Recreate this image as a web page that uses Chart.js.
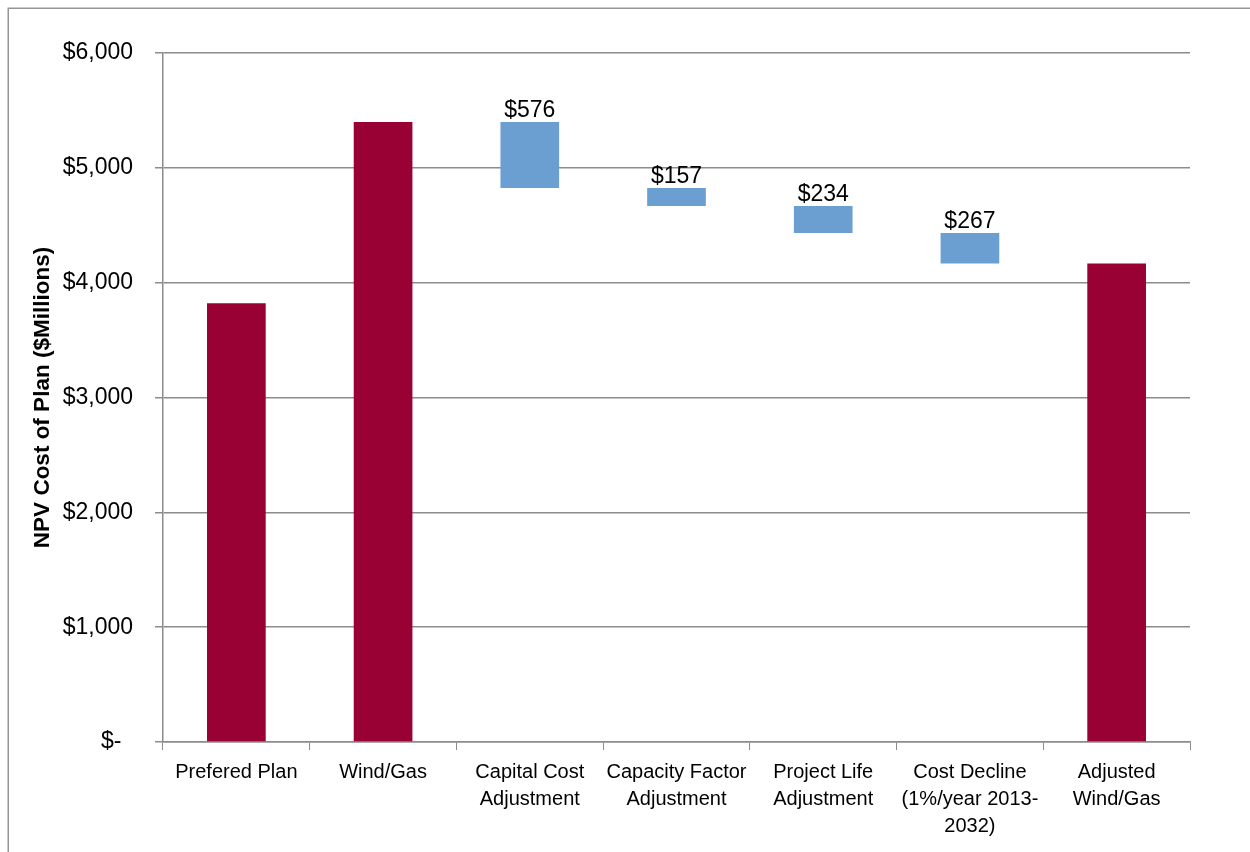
<!DOCTYPE html>
<html>
<head>
<meta charset="utf-8">
<script src="https://cdn.jsdelivr.net/npm/chart.js@4/dist/chart.umd.min.js"></script>
<style>
  html, body { margin: 0; padding: 0; background: #fff; }
  #wrap { width: 1250px; height: 852px; position: relative; }
</style>
</head>
<body>
<div id="wrap"><canvas id="c" width="1250" height="852"></canvas></div>
<script>
// ---- Data ----
const categories = [
  ['Prefered Plan'],
  ['Wind/Gas'],
  ['Capital Cost', 'Adjustment'],
  ['Capacity Factor', 'Adjustment'],
  ['Project Life', 'Adjustment'],
  ['Cost Decline', '(1%/year 2013-', '2032)'],
  ['Adjusted', 'Wind/Gas']
];
const totalValues = [3820, 5400, null, null, null, null, 4166];
const adjustmentValues = [null, null, 576, 157, 234, 267, null];
const yTickValues = [0, 1000, 2000, 3000, 4000, 5000, 6000];

// ---- Styles ----
const FONT = "'Liberation Sans', Arial, sans-serif";
const RED = '#990033';
const BLUE = '#6C9FD1';
const GRID = '#8C8C8C';

// Build floating waterfall bars from the data
let running = 0;
const barData = categories.map((c, i) => {
  if (totalValues[i] !== null) {
    running = totalValues[i];
    return [0, totalValues[i]];
  }
  const top = running;
  running = running - adjustmentValues[i];
  return [running, top];
});
const barColors = categories.map((c, i) => totalValues[i] !== null ? RED : BLUE);

const framePlugin = {
  id: 'frame',
  beforeDraw(chart) {
    const ctx = chart.ctx;
    ctx.save();
    ctx.fillStyle = '#fff';
    ctx.fillRect(0, 0, chart.width, chart.height);
    ctx.strokeStyle = '#969696';
    ctx.lineWidth = 1.5;
    ctx.strokeRect(8.25, 8.25, 1400, 1000);
    ctx.restore();
  }
};

const labelPlugin = {
  id: 'deltaLabels',
  afterDatasetsDraw(chart) {
    const ctx = chart.ctx;
    const meta = chart.getDatasetMeta(0);
    const yScale = chart.scales.y;
    ctx.save();
    ctx.font = "23px " + FONT;
    ctx.fillStyle = '#000';
    ctx.textAlign = 'center';
    ctx.textBaseline = 'alphabetic';
    adjustmentValues.forEach((v, i) => {
      if (v === null) return;
      const el = meta.data[i];
      const top = yScale.getPixelForValue(barData[i][1]);
      ctx.fillText('$' + v, el.x, top - 5);
    });
    ctx.restore();
  }
};

new Chart(document.getElementById('c'), {
  type: 'bar',
  data: {
    labels: categories,
    datasets: [{
      data: barData,
      backgroundColor: barColors,
      borderWidth: 0,
      categoryPercentage: 1.0,
      barPercentage: 0.4
    }]
  },
  options: {
    responsive: false,
    animation: false,
    devicePixelRatio: 1,
    layout: { padding: { left: 0, right: 60, top: 53, bottom: 0 } },
    plugins: {
      legend: { display: false },
      tooltip: { enabled: false }
    },
    scales: {
      x: {
        grid: {
          display: true,
          drawOnChartArea: false,
          drawTicks: true,
          tickLength: 8,
          color: GRID,
          offset: true
        },
        border: { display: true, color: GRID, width: 1.5 },
        ticks: {
          color: '#000',
          font: { family: FONT, size: 20, lineHeight: 1.35 },
          padding: 9,
          maxRotation: 0,
          autoSkip: false
        },
        afterFit(scale) { scale.height = 110; }
      },
      y: {
        min: 0,
        max: 6000,
        afterBuildTicks(scale) {
          scale.ticks = yTickValues.map(v => ({ value: v }));
        },
        grid: {
          color: GRID,
          lineWidth: 1.5,
          drawTicks: true,
          tickLength: 8
        },
        border: { display: true, color: GRID, width: 1.5 },
        ticks: {
          color: '#000',
          font: { family: FONT, size: 23 },
          padding: 22,
          callback: (v) => v === 0 ? '$-\u2002' : '$' + v.toLocaleString('en-US')
        },
        title: {
          display: true,
          text: 'NPV Cost of Plan ($Millions)',
          color: '#000',
          font: { family: FONT, size: 22.5, weight: 'bold' },
          padding: { top: 29, bottom: 0 }
        },
        afterFit(scale) { scale.width = 163; }
      }
    }
  },
  plugins: [framePlugin, labelPlugin]
});
</script>
</body>
</html>
